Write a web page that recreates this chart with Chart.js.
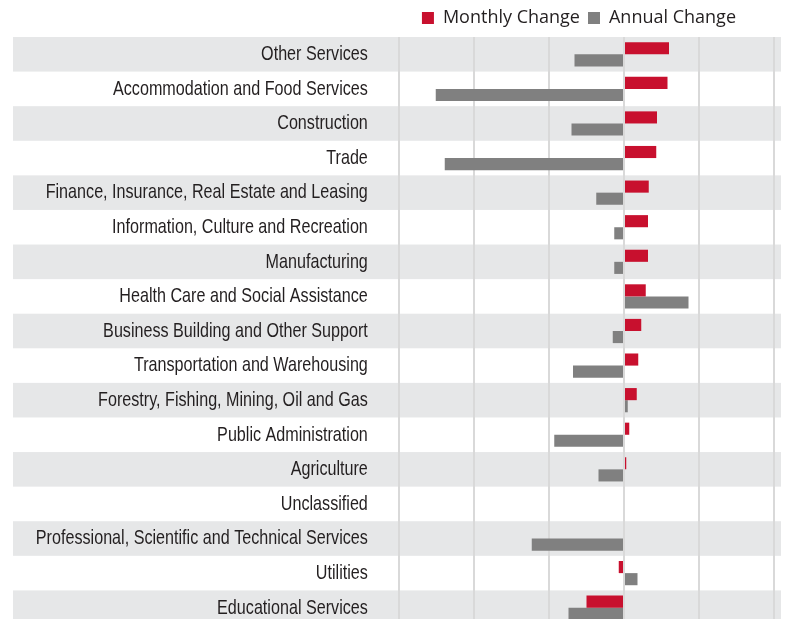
<!DOCTYPE html>
<html>
<head>
<meta charset="utf-8">
<script src="https://cdn.jsdelivr.net/npm/chart.js@4/dist/chart.umd.min.js"></script>
<style>
  html, body { margin: 0; padding: 0; background: #fff; overflow: hidden; }
  #wrap { width: 788px; height: 640px; }
</style>
</head>
<body>
<div id="wrap"><canvas id="myChart" width="788" height="640"></canvas></div>
<script>
// employment change by industry (thousands)
var industries = [
  "Other Services",
  "Accommodation and Food Services",
  "Construction",
  "Trade",
  "Finance, Insurance, Real Estate and Leasing",
  "Information, Culture and Recreation",
  "Manufacturing",
  "Health Care and Social Assistance",
  "Business Building and Other Support",
  "Transportation and Warehousing",
  "Forestry, Fishing, Mining, Oil and Gas",
  "Public Administration",
  "Agriculture",
  "Unclassified",
  "Professional, Scientific and Technical Services",
  "Utilities",
  "Educational Services"
];
var monthlyChange = [6.0, 5.8, 4.4, 4.3, 3.3, 3.2, 3.2, 2.9, 2.3, 1.9, 1.7, 0.7, 0.3, 0, 0, -0.7, -5.0];
var annualChange = [-6.6, -25.1, -7.0, -23.9, -3.7, -1.3, -1.3, 8.6, -1.5, -6.8, 0.5, -9.3, -3.4, 0, -12.3, 1.8, -7.4];

var labelFont = { family: 'Liberation Sans', size: 21 };
var labelGap = 25;

// grey bands behind every other row, running under the labels too
var bandPlugin = {
  id: 'bands',
  afterLayout: function(chart) {
    // nudge the legend in from the right edge
    chart.legend.left -= 30;
    chart.legend.right -= 30;
  },
  beforeDraw: function(chart) {
    var c = chart.ctx, y = chart.scales.y, area = chart.chartArea;
    var rowH = (area.bottom - area.top) / industries.length;
    c.save();
    c.fillStyle = '#e6e7e8';
    for (var i = 0; i < industries.length; i += 2) {
      var cy = y.getPixelForValue(i);
      c.fillRect(13, cy - rowH / 2, 768, rowH);
    }
    c.restore();

    // condensed look for the category labels
    if (!y._squeezed) {
      var orig = y.drawLabels;
      y._computeLabelArea = function() { return null; };
      y.drawLabels = function(ca) {
        var cx = chart.ctx;
        cx.save();
        cx.font = labelFont.size + 'px "' + labelFont.family + '"';
        var longest = 0;
        industries.forEach(function(s) { longest = Math.max(longest, cx.measureText(s).width); });
        var k = 332 / longest;
        var xr = y.right - labelGap;
        cx.translate(xr, 0);
        cx.scale(k, 1);
        cx.translate(-xr, 0);
        orig.call(y, ca);
        cx.restore();
      };
      y._squeezed = true;
    }
  }
};

var ctx = document.getElementById("myChart").getContext('2d');
var myChart = new Chart(ctx, {
  type: 'bar',
  data: {
    labels: industries,
    datasets: [{
      label: 'Monthly Change',
      data: monthlyChange,
      backgroundColor: "#c8102e"
    }, {
      label: 'Annual Change',
      data: annualChange,
      backgroundColor: "#808080"
    }]
  },
  options: {
    indexAxis: 'y',
    responsive: false,
    animation: false,
    categoryPercentage: 0.7,
    barPercentage: 1.0,
    layout: { padding: { top: 1, right: 14, bottom: 15, left: 0 } },
    plugins: {
      legend: {
        position: 'top',
        align: 'end',
        labels: {
          boxWidth: 12,
          boxHeight: 12,
          padding: 8,
          color: '#231f20',
          font: { family: 'Open Sans', size: 18 }
        }
      },
      tooltip: { enabled: false }
    },
    scales: {
      x: {
        min: -30,
        max: 20,
        afterFit: function(s) { s.height = 0; s.paddingLeft = 0; s.paddingRight = 0; },
        ticks: { display: false, stepSize: 10 },
        grid: { color: '#d9d9d9', lineWidth: 2, drawTicks: false },
        border: { display: false }
      },
      y: {
        afterFit: function(s) { s.width = 399; s.paddingTop = 0; s.paddingBottom = 0; },
        grid: { display: false },
        border: { display: false },
        ticks: {
          padding: labelGap,
          color: '#231f20',
          font: labelFont
        }
      }
    }
  },
  plugins: [bandPlugin]
});
</script>
</body>
</html>
